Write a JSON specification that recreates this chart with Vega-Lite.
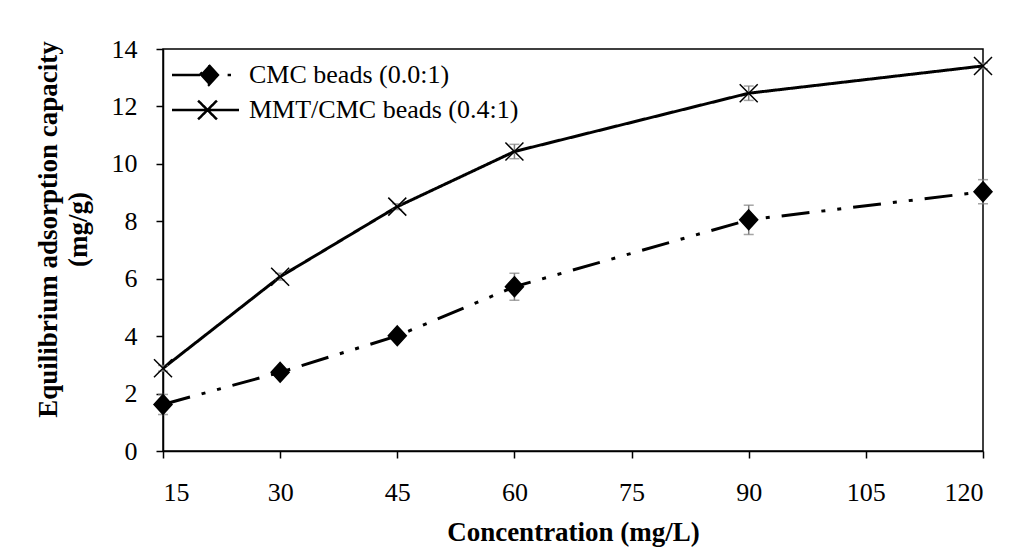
{
  "$schema": "https://vega.github.io/schema/vega-lite/v6.json",
  "autosize": "none",
  "width": 820,
  "height": 402,
  "padding": {"left": 163, "top": 49, "right": 39, "bottom": 109},
  "background": "white",
  "data": {
    "values": [
      {"conc": 15, "series": "CMC beads (0.0:1)", "q": 1.62, "err": 0.35},
      {"conc": 30, "series": "CMC beads (0.0:1)", "q": 2.74, "err": 0.1},
      {"conc": 45, "series": "CMC beads (0.0:1)", "q": 4.01, "err": 0.12},
      {"conc": 60, "series": "CMC beads (0.0:1)", "q": 5.72, "err": 0.47},
      {"conc": 90, "series": "CMC beads (0.0:1)", "q": 8.05, "err": 0.51},
      {"conc": 120, "series": "CMC beads (0.0:1)", "q": 9.03, "err": 0.42},
      {"conc": 15, "series": "MMT/CMC beads (0.4:1)", "q": 2.88, "err": 0.1},
      {"conc": 30, "series": "MMT/CMC beads (0.4:1)", "q": 6.07, "err": 0.12},
      {"conc": 45, "series": "MMT/CMC beads (0.4:1)", "q": 8.51, "err": 0.1},
      {"conc": 60, "series": "MMT/CMC beads (0.4:1)", "q": 10.43, "err": 0.25},
      {"conc": 90, "series": "MMT/CMC beads (0.4:1)", "q": 12.46, "err": 0.25},
      {"conc": 120, "series": "MMT/CMC beads (0.4:1)", "q": 13.41, "err": 0.1}
    ]
  },
  "encoding": {
    "x": {
      "field": "conc",
      "type": "quantitative",
      "scale": {"domain": [15, 120], "nice": false, "zero": false},
      "axis": {
        "values": [15, 30, 45, 60, 75, 90, 105, 120],
        "title": "Concentration (mg/L)",
        "labelPadding": 21,
        "titleBaseline": "alphabetic",
        "titleY": 89
      }
    },
    "y": {
      "field": "q",
      "type": "quantitative",
      "scale": {"domain": [0, 14], "nice": false},
      "axis": {
        "values": [0, 2, 4, 6, 8, 10, 12, 14],
        "title": ["Equilibrium  adsorption capacity", "(mg/g)"],
        "labelPadding": 19,
        "titleAngle": 270,
        "titleAlign": "center",
        "titleBaseline": "alphabetic",
        "titleX": -107,
        "titleY": 180,
        "titleLineHeight": 30
      }
    }
  },
  "layer": [
    {
      "mark": {"type": "line", "strokeWidth": 3, "color": "black"},
      "encoding": {
        "strokeDash": {
          "field": "series",
          "type": "nominal",
          "scale": {
            "domain": ["CMC beads (0.0:1)", "MMT/CMC beads (0.4:1)"],
            "range": [[28, 12, 4, 12, 4, 12], [1, 0]]
          },
          "legend": {
            "orient": "none",
            "legendX": 29.5,
            "legendY": 13,
            "title": null,
            "padding": 0,
            "labelFont": "Liberation Serif",
            "labelFontSize": 26,
            "labelColor": "black",
            "labelLimit": 0,
            "labelOffset": 30.5,
            "rowPadding": 5,
            "symbolSize": 400,
            "symbolStrokeWidth": 2.5,
            "symbolStrokeColor": "black",
            "symbolFillColor": "black",
            "encode": {
              "symbols": {
                "update": {
                  "shape": {"signal": "datum.value === 'CMC beads (0.0:1)' ? 'M-3.35,0L0,0M0.335,-1L1.24,0L0.335,1L-0.57,0ZM2.21,0L2.55,0' : 'M-3.35,0L3.35,0M-0.74,-0.94L1.14,0.94M-0.74,0.94L1.14,-0.94'"},
                  "strokeDash": {"value": [1, 0]},
                  "fill": {"value": "black"},
                  "stroke": {"value": "black"},
                  "strokeWidth": {"value": 2.5},
                  "opacity": {"value": 1}
                }
              }
            }
          }
        }
      }
    },
    {
      "mark": {
        "type": "errorbar",
        "color": "#7f7f7f",
        "thickness": 1.5,
        "ticks": {"size": 10, "thickness": 1.5, "color": "#7f7f7f"}
      },
      "encoding": {
        "yError": {"field": "err"}
      }
    },
    {
      "transform": [{"filter": "datum.series === 'CMC beads (0.0:1)'"}],
      "mark": {
        "type": "point",
        "shape": "M0,-1.1L1,0L0,1.1L-1,0Z",
        "filled": true,
        "fill": "black",
        "stroke": "black",
        "strokeWidth": 1.5,
        "opacity": 1,
        "size": 324
      }
    },
    {
      "transform": [{"filter": "datum.series === 'MMT/CMC beads (0.4:1)'"}],
      "mark": {
        "type": "point",
        "shape": "M-1,-1L1,1M-1,1L1,-1",
        "filled": false,
        "stroke": "black",
        "strokeWidth": 1.5,
        "opacity": 1,
        "size": 324
      }
    }
  ],
  "config": {
    "font": "Liberation Serif",
    "view": {"stroke": "black", "strokeWidth": 1.5},
    "axis": {
      "grid": false,
      "domainColor": "black",
      "domainWidth": 1.5,
      "tickColor": "black",
      "tickWidth": 1.5,
      "tickSize": 7,
      "labelFont": "Liberation Serif",
      "labelFontSize": 26,
      "labelColor": "black",
      "titleFont": "Liberation Serif",
      "titleFontSize": 27,
      "titleFontWeight": "bold",
      "titleColor": "black"
    }
  }
}
